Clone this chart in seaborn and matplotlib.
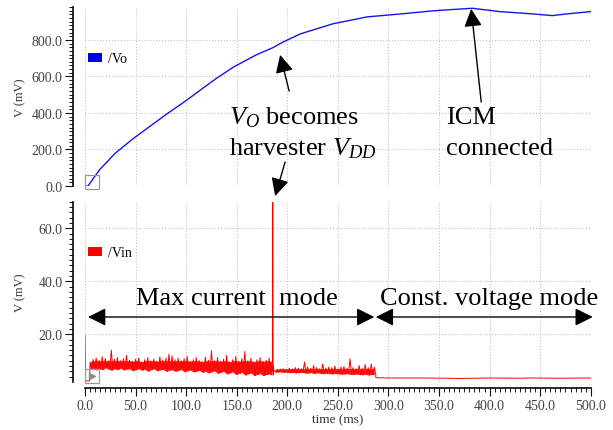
import numpy as np
import seaborn as sns
import matplotlib.pyplot as plt
from matplotlib.patches import Patch
from matplotlib.ticker import MultipleLocator, FormatStrFormatter

# output voltage Vo (mV) vs time (ms)
vo_t = [0, 3, 8, 15, 30, 47, 65, 81, 98, 114, 130, 147, 170, 186, 196, 213,
        245, 279, 312, 344, 365, 383, 395, 410, 443, 462, 476, 500]
vo_v = [0, 0, 40, 93, 180, 257, 330, 395, 460, 525, 590, 652, 720, 758, 789, 833,
        888, 926, 942, 959, 967, 973, 965, 955, 942, 933, 942, 955]

# input voltage Vin (mV): start-up
vin_start_t = [0, 0.3, 0.8, 4.5]
vin_start_v = [19.5, 2.4, 2.4, 2.4]

# max current mode ripple, 5..185 ms every 3 ms (peaks / dips)
vin_hi1 = [9.5, 10.5, 11.0, 10.2, 11.5, 10.8, 10.0, 14.0, 10.5, 11.2,
           10.0, 10.8, 12.0, 10.2, 9.8, 10.6, 11.0, 9.6, 10.4, 11.2,
           10.0, 10.6, 9.8, 11.5, 10.2, 11.0, 12.5, 11.8, 10.4, 11.0,
           10.0, 10.8, 11.6, 9.8, 10.4, 11.2, 10.0, 9.6, 11.4, 10.2,
           13.8, 10.0, 11.2, 9.8, 10.6, 12.0, 9.6, 10.4, 11.6, 9.8,
           10.8, 13.5, 10.0, 11.0, 9.6, 10.4, 11.2, 9.8, 10.2, 11.0, 9.6]
vin_lo1 = [6.8, 7.2, 6.5, 7.0, 6.6, 7.4, 6.8, 6.4, 7.0, 6.6,
           7.2, 6.5, 6.8, 7.0, 6.2, 6.6, 7.0, 6.4, 6.8, 6.0,
           6.6, 7.0, 6.2, 6.5, 6.8, 6.0, 6.4, 6.6, 6.0, 6.3,
           6.8, 5.8, 6.2, 6.5, 5.8, 6.0, 6.4, 5.6, 6.0, 5.4,
           5.8, 6.2, 5.2, 5.6, 6.0, 5.0, 5.4, 5.8, 4.8, 5.2,
           5.6, 4.6, 5.0, 5.4, 4.4, 4.8, 5.2, 4.4, 4.8, 5.0, 4.6]

# spike when Vo becomes harvester VDD
spike_t = [185.3, 185.6, 186.0]
spike_v = [9.0, 70.0, 6.0]

# after the spike, 187..286 ms every 3 ms
vin_hi2 = [6.4, 6.8, 6.9, 7.0, 6.8, 7.2, 7.0, 7.4, 7.2, 7.0,
           9.5, 7.6, 7.2, 8.2, 7.4, 7.0, 8.8, 7.2, 7.6, 7.4,
           8.0, 7.0, 7.6, 7.8, 7.2, 10.7, 7.4, 7.0, 8.2, 7.2,
           8.6, 7.4, 8.8, 7.6]
vin_lo2 = [5.8, 5.7, 5.8, 5.6, 5.7, 5.5, 5.6, 5.4, 5.5, 5.6,
           5.4, 5.3, 5.5, 5.2, 5.4, 5.3, 5.1, 5.3, 5.2, 5.0,
           5.2, 5.1, 4.9, 5.0, 5.1, 4.9, 4.8, 5.0, 4.8, 4.7,
           4.9, 4.6, 4.8, 4.7]

# constant voltage mode
vin_tail_t = [287.5, 300, 330, 360, 370, 400, 430, 440, 470, 500]
vin_tail_v = [3.6, 3.5, 3.5, 3.4, 3.3, 3.5, 3.4, 3.5, 3.4, 3.5]


def zigzag(t0, hi, lo):
    t = t0 + 3.0 * np.arange(len(hi))
    tt = np.column_stack([t, t + 1.5]).ravel()
    vv = np.column_stack([hi, lo]).ravel()
    return t, tt, vv


g1_t, z1_t, z1_v = zigzag(5.0, vin_hi1, vin_lo1)
g2_t, z2_t, z2_v = zigzag(187.0, vin_hi2, vin_lo2)
vin_t = np.concatenate([vin_start_t, z1_t, spike_t, z2_t, vin_tail_t])
vin_v = np.concatenate([vin_start_v, z1_v, spike_v, z2_v, vin_tail_v])

sns.set_theme(style="ticks")
plt.rcParams["font.family"] = ["Liberation Serif", "DejaVu Serif"]
plt.rcParams["mathtext.fontset"] = "custom"
plt.rcParams["mathtext.rm"] = "Liberation Serif"
plt.rcParams["mathtext.it"] = "Liberation Serif:italic"
plt.rcParams["text.color"] = "black"

fig = plt.figure(figsize=(6.13, 4.31), dpi=100)
ax1 = fig.add_axes([0.1387, 0.5661, 0.8250, 0.4153])
ax2 = fig.add_axes([0.1387, 0.1121, 0.8250, 0.4176])

sns.lineplot(x=vo_t, y=vo_v, ax=ax1, color="#1515e8", lw=1.0,
             estimator=None, sort=False)
# solid core of the ripple band, then the ripple itself
ax2.fill_between(g1_t, vin_lo1, np.minimum(vin_hi1, 10.0), color="#ff0000",
                 lw=0, alpha=0.9)
ax2.fill_between(g2_t, vin_lo2, np.minimum(vin_hi2, 7.0), color="#ff0000",
                 lw=0, alpha=0.9)
sns.lineplot(x=vin_t, y=vin_v, ax=ax2, color="#ff0000", lw=0.7,
             estimator=None, sort=False)

ax1.set_ylim(0, 980)
ax2.set_ylim(2.1, 70)
gray = "#444444"
for ax in (ax1, ax2):
    ax.set_xlim(0, 500)
    ax.spines["top"].set_visible(False)
    ax.spines["right"].set_visible(False)
    ax.spines["left"].set_position(("outward", 8.6))
    ax.spines["left"].set_color("#111111")
    ax.spines["bottom"].set_color("#111111")
    ax.xaxis.set_major_locator(MultipleLocator(50))
    ax.xaxis.set_minor_locator(MultipleLocator(5))
    ax.xaxis.set_major_formatter(FormatStrFormatter("%.1f"))
    ax.yaxis.set_major_formatter(FormatStrFormatter("%.1f"))
    ax.tick_params(which="major", length=5.5, width=0.8, color="#111111",
                   labelsize=10, labelcolor=gray, pad=2)
    ax.tick_params(which="minor", length=3, width=0.7, color="#111111")
    ax.grid(True, which="major", ls=":", lw=0.8, color="#c4c4c4")
    ax.set_ylabel("V (mV)", fontsize=9, color="#333333")
    ax.yaxis.set_label_coords(-0.117, 0.5)
    ax.set_xlabel("")

ax1.yaxis.set_major_locator(MultipleLocator(200))
ax1.yaxis.set_minor_locator(MultipleLocator(20))
ax1.spines["bottom"].set_visible(False)
ax1.tick_params(axis="x", which="both", bottom=False, labelbottom=False)

ax2.yaxis.set_major_locator(MultipleLocator(20))
ax2.yaxis.set_minor_locator(MultipleLocator(2))
ax2.spines["bottom"].set_position(("outward", 4.7))
ax2.set_xlabel("time (ms)", fontsize=9.5, color="#333333")
ax2.xaxis.set_label_coords(0.5, -0.178)

# legends
ax1.legend(handles=[Patch(facecolor="#0000e0", edgecolor="none", label="/Vo")],
           loc="center left", bbox_to_anchor=(0.006, 0.712), frameon=False,
           fontsize=10, handlelength=1.0, handleheight=0.65, handletextpad=0.4,
           borderpad=0, borderaxespad=0)
ax2.legend(handles=[Patch(facecolor="#ff0000", edgecolor="none", label="/Vin")],
           loc="center left", bbox_to_anchor=(0.006, 0.715), frameon=False,
           fontsize=10, handlelength=1.0, handleheight=0.65, handletextpad=0.4,
           borderpad=0, borderaxespad=0)

# cursor boxes at trace start
ax1.plot([0.0138], [0.02], transform=ax1.transAxes, marker="s", ms=9.5,
         mfc="none", mec="#9a9a9a", mew=0.9, clip_on=False)
ax2.plot([0.0138], [0.029], transform=ax2.transAxes, marker="s", ms=9.5,
         mfc="none", mec="#9a9a9a", mew=0.9, clip_on=False)
ax2.plot([0.0145], [0.029], transform=ax2.transAxes, marker=">", ms=4,
         color="#8a8a8a", clip_on=False)

# annotations
big = 19
head = "-|>,head_length=0.6,head_width=0.3"
ax1.text(142.4, 345, r"$V_O$ becomes", fontsize=big, ha="left", va="baseline")
ax1.text(142.4, 175, r"harvester $V_{DD}$", fontsize=big, ha="left", va="baseline")
ax1.text(357, 345, "ICM", fontsize=big, ha="left", va="baseline")
ax1.text(357, 175, "connected", fontsize=big, ha="left", va="baseline")
ax1.annotate("", xy=(192.9, 718), xytext=(201.8, 520),
             arrowprops=dict(arrowstyle=head, mutation_scale=18, color="black",
                             lw=1.0, shrinkA=0, shrinkB=0))
ax1.annotate("", xy=(188, -55), xytext=(197.8, 131),
             arrowprops=dict(arrowstyle=head, mutation_scale=18, color="black",
                             lw=1.0, shrinkA=0, shrinkB=0),
             annotation_clip=False)
ax1.annotate("", xy=(381.8, 970), xytext=(391.7, 460),
             arrowprops=dict(arrowstyle=head, mutation_scale=18, color="black",
                             lw=1.0, shrinkA=0, shrinkB=0))

dbl = "<|-|>,head_length=0.6,head_width=0.3"
ax2.annotate("", xy=(286, 26.5), xytext=(3, 26.5),
             arrowprops=dict(arrowstyle=dbl, mutation_scale=18, color="black",
                             lw=1.0, shrinkA=0, shrinkB=0))
ax2.annotate("", xy=(502, 26.5), xytext=(287.5, 26.5),
             arrowprops=dict(arrowstyle=dbl, mutation_scale=18, color="black",
                             lw=1.0, shrinkA=0, shrinkB=0),
             annotation_clip=False)
ax2.text(150, 31.4, "Max current  mode", fontsize=big, ha="center", va="baseline")
ax2.text(400, 31.4, "Const. voltage mode", fontsize=big, ha="center", va="baseline")

fig.savefig("out.png", dpi=100)
